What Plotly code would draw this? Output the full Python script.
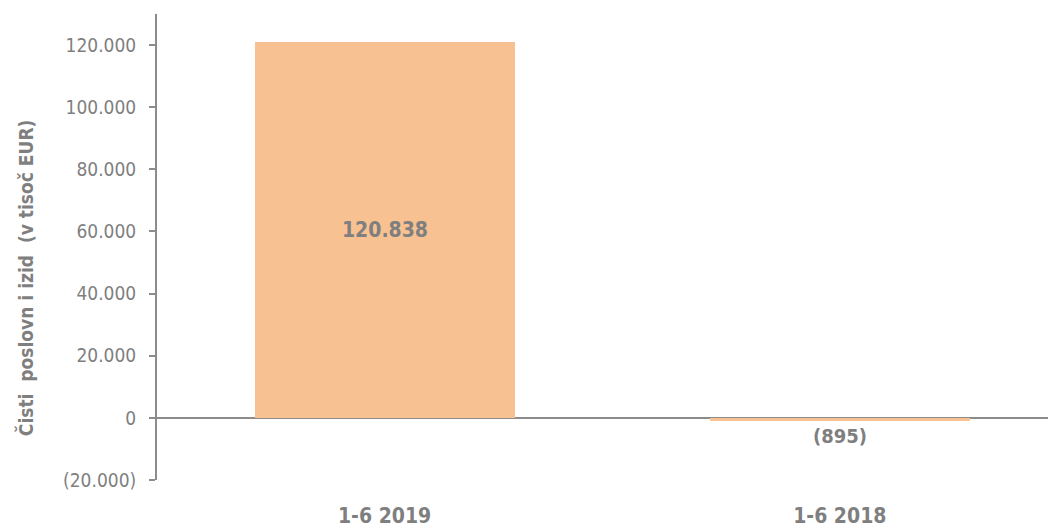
import plotly.graph_objects as go

categories = ['1-6 2019', '1-6 2018']
values = [120838, -895]
tick_vals = [-20000, 0, 20000, 40000, 60000, 80000, 100000, 120000]
y_title = 'Čisti  poslovn i izid  (v tisoč EUR)'

BAR_COLOR = '#F8C192'
GREY = '#7f7f7f'
FONT = 'DejaVu Sans Condensed, Liberation Sans Narrow, Arial Narrow, sans-serif'


def fmt(v):
    s = f"{abs(v):,.0f}".replace(',', '.')
    return f"({s})" if v < 0 else s


fig = go.Figure()

fig.add_trace(go.Bar(
    x=[0, 1],
    y=values,
    width=0.571,
    marker=dict(color=BAR_COLOR, line=dict(width=0)),
    text=[fmt(v) for v in values],
    textposition=['inside', 'outside'],
    insidetextanchor='middle',
    textfont=dict(family=FONT, size=21, color=GREY, weight='bold'),
    outsidetextfont=dict(family=FONT, size=20, color=GREY, weight='bold'),
    cliponaxis=False,
    hoverinfo='skip'
))

# axis title sits a bit below the middle of the axis, so it is an annotation
fig.add_annotation(
    text=y_title,
    xref='paper', yref='paper',
    x=-0.162, y=0.435,
    textangle=-90,
    showarrow=False,
    font=dict(family=FONT, size=19, color=GREY, weight='bold'),
)

# page body has an 8px margin, so the figure is sized to fit the window
fig.update_layout(
    width=1048, height=520,
    paper_bgcolor='white', plot_bgcolor='white',
    margin=dict(l=149, r=0, t=6, b=48),
    showlegend=False,
    bargap=0,
    xaxis=dict(
        range=[-0.5, 1.475],
        tickvals=[0, 1],
        ticktext=categories,
        showgrid=False, zeroline=False, showline=False,
        ticks='',
        ticklabelstandoff=21,
        automargin=False,
        tickfont=dict(family=FONT, size=21, color=GREY, weight='bold'),
    ),
    yaxis=dict(
        range=[-20000, 130000],
        tickvals=tick_vals,
        ticktext=[fmt(v) for v in tick_vals],
        showgrid=False,
        zeroline=True, zerolinecolor='#8c8c8c', zerolinewidth=2,
        showline=True, linecolor='#8c8c8c', linewidth=2,
        ticks='outside', ticklen=6, tickwidth=2, tickcolor='#8c8c8c',
        ticklabelstandoff=9,
        automargin=False,
        tickfont=dict(family=FONT, size=19, color=GREY),
    ),
)

fig.write_html("out.html")
